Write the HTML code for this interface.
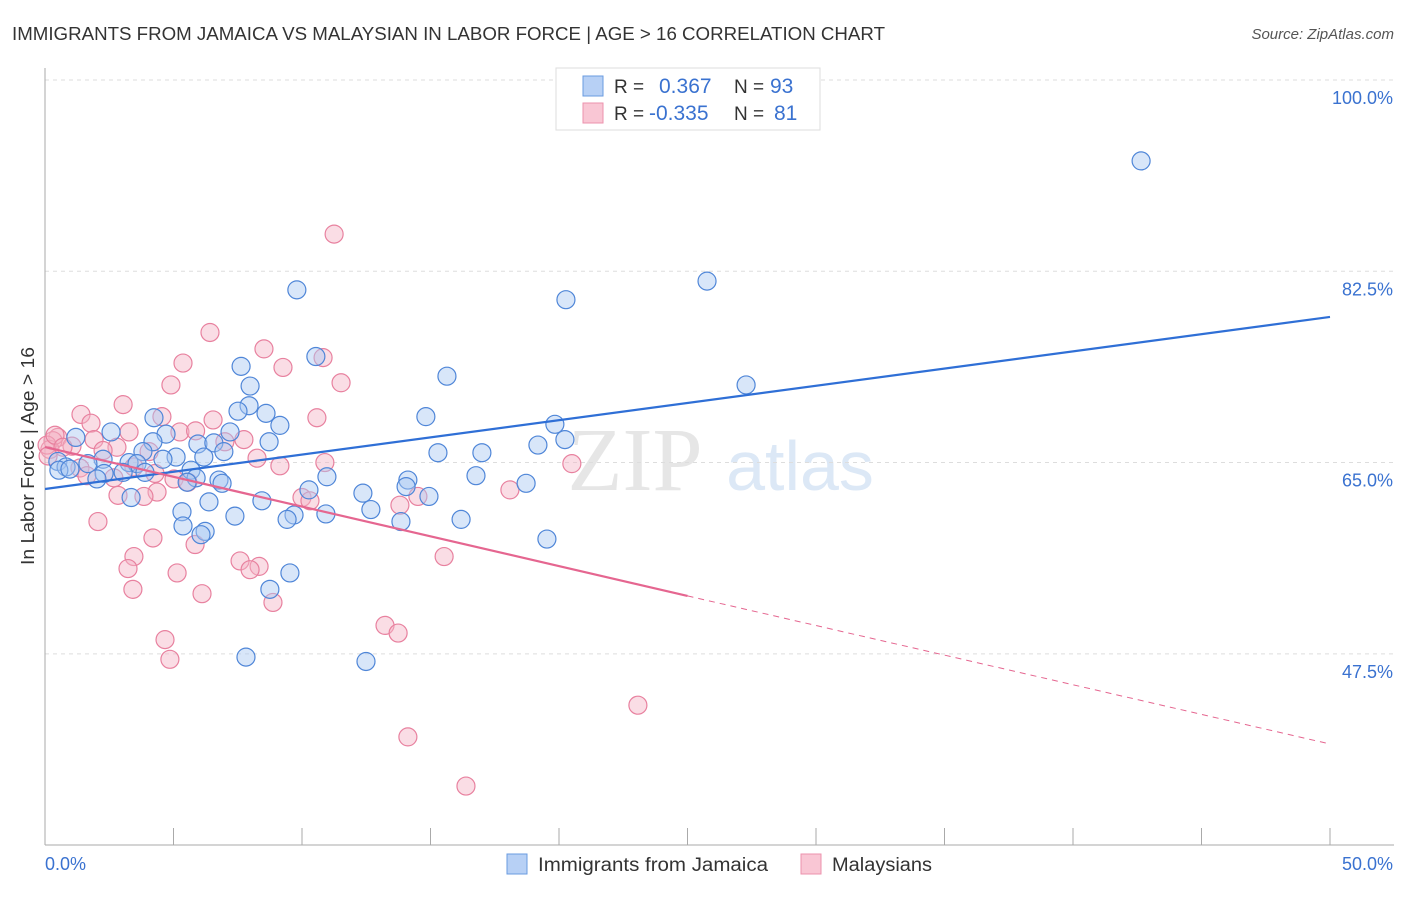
<!DOCTYPE html>
<html><head><meta charset="utf-8"><style>
body{margin:0;background:#fff;font-family:"Liberation Sans",sans-serif}
</style></head><body>
<svg width="1406" height="892" xmlns="http://www.w3.org/2000/svg" id="svg" font-family="Liberation Sans, sans-serif">
<text x="12" y="40" font-size="18" fill="#333" textLength="873" lengthAdjust="spacingAndGlyphs">IMMIGRANTS FROM JAMAICA VS MALAYSIAN IN LABOR FORCE | AGE &gt; 16 CORRELATION CHART</text>
<text x="1394" y="39" font-size="15" font-style="italic" fill="#555" text-anchor="end">Source: ZipAtlas.com</text>
<text x="635" y="490" font-size="90" fill="#e6e6e6" font-family="Liberation Serif, serif" text-anchor="middle">ZIP</text>
<text x="800" y="490" font-size="70" fill="#dce8f6" text-anchor="middle">atlas</text>
<g id="grid"></g><g id="axes"></g><g id="marks"></g>
<text transform="translate(34,456) rotate(-90)" font-size="18" fill="#333" text-anchor="middle" textLength="218" lengthAdjust="spacingAndGlyphs">In Labor Force | Age &gt; 16</text>
<g>
<rect x="556" y="68" width="264" height="62" fill="#fff" stroke="#ddd"/>
<rect x="583" y="76" width="20" height="20" fill="#b7d0f5" stroke="#6a9be0"/>
<rect x="583" y="103" width="20" height="20" fill="#f9c6d4" stroke="#ec92ad"/>
<text x="614" y="93" font-size="19" fill="#333">R = <tspan fill="#3a72d0" x="659" font-size="21">0.367</tspan><tspan fill="#333" x="734">N = </tspan><tspan fill="#3a72d0" x="770" font-size="21">93</tspan></text>
<text x="614" y="120" font-size="19" fill="#333">R = <tspan fill="#3a72d0" x="649" font-size="21">-0.335</tspan><tspan fill="#333" x="734">N = </tspan><tspan fill="#3a72d0" x="774" font-size="21">81</tspan></text>
</g>
<rect x="507" y="854" width="20" height="20" fill="#b7d0f5" stroke="#6a9be0"/>
<text x="538" y="871" font-size="19" fill="#333" textLength="230" lengthAdjust="spacingAndGlyphs">Immigrants from Jamaica</text>
<rect x="801" y="854" width="20" height="20" fill="#f9c6d4" stroke="#ec92ad"/>
<text x="832" y="871" font-size="19" fill="#333" textLength="100" lengthAdjust="spacingAndGlyphs">Malaysians</text>
</svg>
<script>
const yTicks=[100,82.5,65,47.5];
const yTickLabels=["100.0%","82.5%","65.0%","47.5%"];
const xTicks=[0,5,10,15,20,25,30,35,40,45,50];
const blueX=[42.65,25.76,20.27,9.8,10.54,7.63,15.64,27.28,7.98,7.94,7.51,8.6,4.24,14.82,19.84,9.14,2.57,4.71,7.2,1.2,4.2,5.95,6.57,8.72,20.23,19.18,6.96,15.29,17.0,3.81,5.1,4.59,6.18,2.26,0.5,1.67,3.27,3.58,0.82,0.54,0.97,5.68,3.04,3.89,2.3,10.97,16.77,14.12,2.02,5.88,5.53,6.77,6.89,18.72,14.05,12.37,10.27,14.94,3.35,6.38,8.44,12.68,5.33,9.69,10.93,7.39,9.42,16.19,13.85,5.37,6.23,6.07,19.53,9.53,8.75,7.82,12.49];
const blueY=[92.6,81.6,79.9,80.8,74.7,73.8,72.9,72.1,72.0,70.2,69.7,69.5,69.1,69.2,68.5,68.4,67.8,67.6,67.8,67.3,66.9,66.7,66.8,66.9,67.1,66.6,66.0,65.9,65.9,66.0,65.5,65.3,65.5,65.3,65.1,64.9,65.0,64.9,64.6,64.3,64.4,64.3,64.1,64.1,64.0,63.7,63.8,63.4,63.5,63.6,63.2,63.4,63.1,63.1,62.8,62.2,62.5,61.9,61.8,61.4,61.5,60.7,60.5,60.2,60.3,60.1,59.8,59.8,59.6,59.2,58.7,58.4,58.0,54.9,53.4,47.2,46.8];
const pinkX=[11.25,6.42,8.52,5.37,10.82,9.26,4.9,11.52,3.04,1.4,4.55,10.58,6.54,1.79,5.25,5.86,3.27,0.5,7.74,0.31,7.0,1.91,1.05,2.8,0.19,4.05,2.26,8.25,10.89,9.14,20.5,3.46,1.36,4.28,1.63,5.02,2.68,5.56,18.09,4.36,10.0,3.85,10.31,14.51,13.81,2.84,2.06,4.2,5.84,3.46,15.53,7.59,8.33,3.23,7.98,5.14,3.42,6.11,8.87,13.23,13.74,4.67,4.86,23.07,14.12,16.38,0.08,0.39,0.7,0.12];
const pinkY=[85.9,76.9,75.4,74.1,74.6,73.7,72.1,72.3,70.3,69.4,69.2,69.1,68.9,68.6,67.8,67.9,67.8,67.3,67.1,67.0,66.9,67.1,66.5,66.4,66.2,66.0,66.1,65.4,65.0,64.7,64.9,64.6,64.5,64.0,63.8,63.5,63.6,63.2,62.5,62.3,61.8,61.9,61.5,61.9,61.1,62.0,59.6,58.1,57.5,56.4,56.4,56.0,55.5,55.3,55.2,54.9,53.4,53.0,52.2,50.1,49.4,48.8,47.0,42.8,39.9,35.4,66.6,67.5,66.4,65.6];
const blueTrend=[[0,62.58],[50,78.32]];
const pinkTrend=[[0,66.42],[25,52.8],[50,39.25]];
const NS="http://www.w3.org/2000/svg";
const X=v=>45+v*25.7, Y=v=>80+(100-v)*10.93;
function mk(t,a,p){const e=document.createElementNS(NS,t);for(const k in a)e.setAttribute(k,a[k]);document.getElementById(p).appendChild(e);return e;}
yTicks.forEach((t,i)=>{
 const l=mk('line',{x1:45,x2:1394,y1:Y(t),y2:Y(t),stroke:'#ddd','stroke-dasharray':'4,4'},'grid');
 
 
 const tx=mk('text',{x:1393,y:Y(t)+24,'font-size':18,fill:'#3a72d0','text-anchor':'end'},'grid');
 tx.textContent=yTickLabels[i];
 
 
});
let ax=mk('line',{x1:45,x2:45,y1:68,y2:845,stroke:'#aaa'},'axes');


ax=mk('line',{x1:45,x2:1394,y1:845,y2:845,stroke:'#aaa'},'axes');


xTicks.forEach(t=>{const l=mk('line',{x1:X(t),x2:X(t),y1:828,y2:845,stroke:'#aaa'},'axes');
 
 });
[["0.0%",45,'start'],["50.0%",1393,'end']].forEach(a=>{const t=mk('text',{x:a[1],y:870,'font-size':18,fill:'#3a72d0','text-anchor':a[2]},'axes');t.textContent=a[0];
 
 });
function pts(xs,ys,fill,stroke,name){xs.forEach((x,i)=>{const c=mk('circle',{cx:X(x),cy:Y(ys[i]),r:9,fill:fill,'fill-opacity':0.45,stroke:stroke,'stroke-width':1.2},'marks');
 
 });}
pts(pinkX,pinkY,'#f5b3c6','#e8819f','malaysians-point');
pts(blueX,blueY,'#a9c7f2','#4f86d8','jamaica-point');
let l=mk('line',{x1:X(blueTrend[0][0]),y1:Y(blueTrend[0][1]),x2:X(blueTrend[1][0]),y2:Y(blueTrend[1][1]),stroke:'#2f6fd6','stroke-width':2.2},'marks');


l=mk('line',{x1:X(pinkTrend[0][0]),y1:Y(pinkTrend[0][1]),x2:X(pinkTrend[1][0]),y2:Y(pinkTrend[1][1]),stroke:'#e56690','stroke-width':2.2},'marks');


l=mk('line',{x1:X(pinkTrend[1][0]),y1:Y(pinkTrend[1][1]),x2:X(pinkTrend[2][0]),y2:Y(pinkTrend[2][1]),stroke:'#e56690','stroke-width':1,'stroke-dasharray':'6,5'},'marks');


</script>
</body></html>
